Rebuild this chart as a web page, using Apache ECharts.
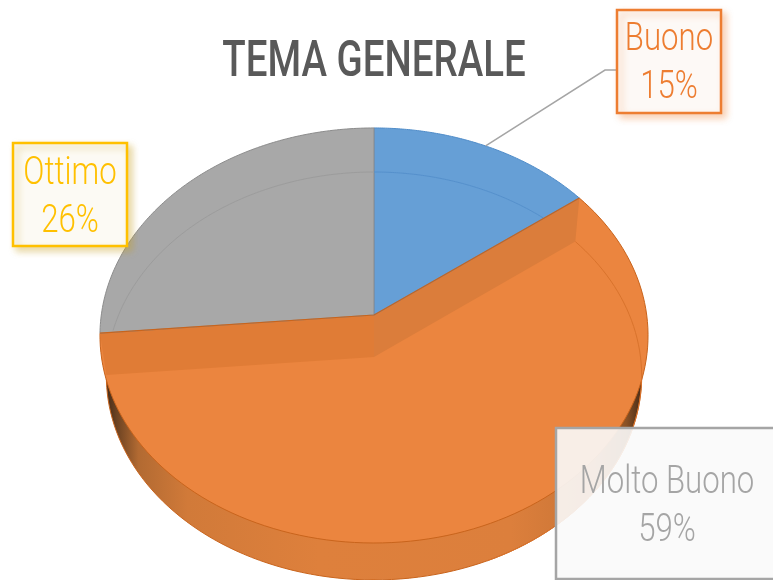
<!DOCTYPE html>
<html>
<head>
<meta charset="utf-8">
<title>TEMA GENERALE</title>
<style>
    html, body { margin: 0; padding: 0; background: #fff; }
    #chart { width: 773px; height: 580px; }
</style>
<script src="https://cdn.jsdelivr.net/npm/echarts@6/dist/echarts.min.js"></script>
</head>
<body>
<div id="chart"></div>
<script>
// Dati del grafico
const titleText = 'TEMA GENERALE';
const categories = ['Buono', 'Molto Buono', 'Ottimo'];
const values = [14.7, 58.9, 26.4];
const labelColors = ['#ED7D31', '#A5A5A5', '#FFC000'];

// Colori delle fette
const faceColors = ['#669FD6', '#EB853F', '#A8A8A8'];
const edgeColors = ['#4F8CC9', '#C9641C', '#8C8C8C'];
const innerEdgeColors = ['#5590CC', '#D9732C', '#9C9C9C'];

const FONT = 'Roboto, "Noto Sans", sans-serif';

// Cerchio superiore e inferiore della torta in prospettiva
const topDisc = { x: 374, y: 315, a: 272.7, b: 205.5, k: 0.0987 };
const bottomDisc = { x: 374, y: 357, a: 266.5, b: 202.2, k: 0.093 };

// Riquadri delle etichette
const boxes = [
    { x: 617, y: 10, w: 104, h: 103, fill: '#FDF9F6', shadow: 'rgba(237,125,49,0.35)' },
    { x: 556, y: 428, w: 240, h: 151, fill: 'rgba(250,250,250,0.9)', shadow: null },
    { x: 13, y: 143, w: 114, h: 103, fill: '#FCFAF4', shadow: 'rgba(200,160,30,0.4)' }
];
const labelCenters = [[669, 64], [667, 507], [70, 198]];

const total = values.reduce((a, b) => a + b, 0);

// Angolo (radianti, senso orario dall'alto) di inizio della fetta i
function startAngle(i) {
    let sum = 0;
    for (let j = 0; j < i; j++) sum += values[j];
    return sum / total * Math.PI * 2;
}

// Punto sul bordo del disco
function rim(disc, angle) {
    const u = Math.sin(angle);
    const v = Math.cos(angle);
    const d = 1 + disc.k * v;
    return [disc.x + disc.a * u / d, disc.y - disc.b * v / d];
}

function arcPoints(disc, a0, a1) {
    const pts = [];
    const n = 120;
    for (let i = 0; i <= n; i++) {
        pts.push(rim(disc, a0 + (a1 - a0) * i / n));
    }
    return pts;
}

function polygon(points, style, z2) {
    return { type: 'polygon', shape: { points: points }, style: style, z2: z2 || 0 };
}

function polyline(points, stroke, width, z2) {
    return {
        type: 'polyline',
        shape: { points: points },
        style: { fill: null, stroke: stroke, lineWidth: width },
        z2: z2 || 0
    };
}

// Gradiente del fianco esterno
const sideGradient = {
    type: 'linear', x: 100, y: 0, x2: 648, y2: 0, global: true,
    colorStops: [
        { offset: 0, color: '#2e1c10' },
        { offset: 0.03, color: '#6b4222' },
        { offset: 0.07, color: '#b26a32' },
        { offset: 0.16, color: '#d17a39' },
        { offset: 0.4, color: '#de803c' },
        { offset: 0.75, color: '#dc7f3c' },
        { offset: 0.9, color: '#c97436' },
        { offset: 0.96, color: '#8a5226' },
        { offset: 1, color: '#2e1c10' }
    ]
};

// Disegna una fetta con le sue pareti e la sua etichetta
function renderSlice(params, api) {
    const i = params.dataIndex;
    const a0 = startAngle(i);
    const a1 = startAngle(i + 1);
    const apexTop = [topDisc.x, topDisc.y];
    const apexBottom = [bottomDisc.x, bottomDisc.y];
    const children = [];
    const arcTop = arcPoints(topDisc, a0, a1);

    if (categories[i] === 'Molto Buono') {
        // fetta in primo piano: fianco, faccia e pareti interne
        const arcBottom = arcPoints(bottomDisc, a0, a1);
        children.push(polygon([apexBottom].concat(arcBottom), {
            fill: sideGradient, stroke: '#C9641C', lineWidth: 1
        }));
        children.push(polygon([apexTop].concat(arcTop), { fill: faceColors[i] }, 1));
        children.push(polyline(arcTop, edgeColors[i], 1, 2));
        children.push(polyline(arcBottom.slice(0, 60), innerEdgeColors[i], 1, 2));
        children.push(polygon([apexTop, rim(topDisc, a0), rim(bottomDisc, a0), apexBottom], { fill: '#DB7D3B' }, 3));
        children.push(polygon([apexTop, rim(topDisc, a1), rim(bottomDisc, a1), apexBottom], { fill: '#E07C36' }, 3));
        children.push(polyline([rim(topDisc, a0), apexTop, rim(topDisc, a1)], edgeColors[i], 1.2, 6));
    } else {
        children.push(polygon([apexTop].concat(arcTop), {
            fill: faceColors[i], stroke: edgeColors[i], lineWidth: 1
        }, 4));
        // bordo del disco inferiore visto in trasparenza, fino alla parete della fetta arancione
        const a = categories[i] === 'Buono' ? startAngle(1) : startAngle(2);
        const edge = rim(topDisc, a);
        const inner = arcPoints(bottomDisc, a0, a1).filter(p => {
            const lineY = topDisc.y + (edge[1] - topDisc.y) * (p[0] - topDisc.x) / (edge[0] - topDisc.x);
            return p[1] < lineY;
        });
        children.push(polyline(inner, innerEdgeColors[i], 1, 5));
    }

    // linea guida di Buono
    if (categories[i] === 'Buono') {
        children.push(polyline([rim(topDisc, (a0 + a1) / 2), [605, 70], [617, 70]], '#A5A5A5', 1.5, 7));
    }

    // etichetta
    const box = boxes[i];
    const color = labelColors[i];
    const rectStyle = { fill: box.fill, stroke: color, lineWidth: 2.5 };
    if (box.shadow) {
        rectStyle.shadowColor = box.shadow;
        rectStyle.shadowBlur = 7;
        rectStyle.shadowOffsetX = 4;
        rectStyle.shadowOffsetY = 4;
    }
    children.push({
        type: 'rect',
        shape: { x: box.x, y: box.y, width: box.w, height: box.h },
        style: rectStyle,
        z2: 10
    });
    const c = labelCenters[i];
    children.push({
        type: 'text',
        z2: 11,
        x: c[0],
        y: c[1],
        scaleX: 0.82,
        style: {
            x: 0, y: 0,
            text: categories[i] + '\n' + Math.round(values[i] / total * 100) + '%',
            fill: color,
            font: '300 38px ' + FONT,
            lineHeight: 48,
            align: 'center',
            verticalAlign: 'middle'
        }
    });

    return { type: 'group', children: children };
}

// Inizializza il grafico
function init() {
    const chart = echarts.init(document.getElementById('chart'));
    chart.setOption({
        animation: false,
        backgroundColor: '#ffffff',
        graphic: [{
            type: 'text',
            x: 374,
            y: 63,
            scaleX: 0.77,
            style: {
                x: 0, y: 0,
                text: titleText,
                fill: '#595959',
                font: '500 50px ' + FONT,
                align: 'center',
                verticalAlign: 'middle'
            }
        }],
        series: [{
            type: 'custom',
            coordinateSystem: 'none',
            renderItem: renderSlice,
            data: values
        }]
    });
}

document.addEventListener('DOMContentLoaded', init);
</script>
</body>
</html>
